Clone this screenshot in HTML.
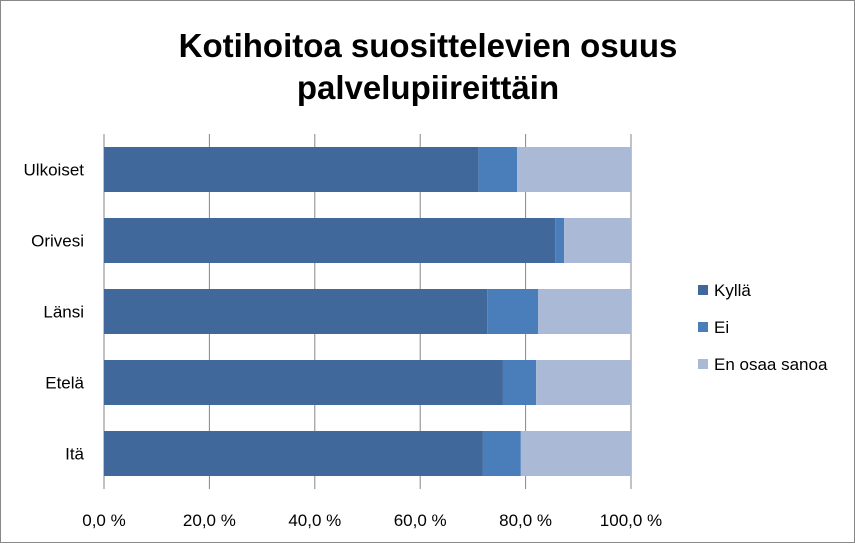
<!DOCTYPE html>
<html><head><meta charset="utf-8"><style>
body{margin:0;background:#fff;font-family:"Liberation Sans",sans-serif}
#wrap{position:relative;width:855px;height:543px;box-sizing:border-box;border:1px solid #888;background:#fff}
</style></head><body>
<div id="wrap">
<svg id="chart" width="855" height="543" style="position:absolute;left:0;top:0">
<text x="427" y="56" text-anchor="middle" font-size="33" font-weight="bold" fill="#000">Kotihoitoa suosittelevien osuus</text>
<text x="427" y="98" text-anchor="middle" font-size="33" font-weight="bold" fill="#000">palvelupiireittäin</text>
</svg>
</div>
<script>
const categories=["Ulkoiset","Orivesi","Länsi","Etelä","Itä"];
const kylla=[71.1,85.6,72.7,75.7,71.9];
const ei=[7.3,1.7,9.7,6.3,7.2];
const eos=[21.6,12.7,17.6,18.0,20.9];
const tickLabels=["0,0 %","20,0 %","40,0 %","60,0 %","80,0 %","100,0 %"];
const tickValues=[0,20,40,60,80,100];
const seriesNames=["Kyllä","Ei","En osaa sanoa"];
const colors=["#41689A","#4A7EBB","#A9B9D6"];
const svg=document.getElementById('chart');
const NS="http://www.w3.org/2000/svg";
const x0=103,x1=630,yTop=133,yBot=488;
const xs=v=>x0+(x1-x0)*v/100;
const band=(yBot-yTop)/categories.length;
const yc=i=>yTop+band*(i+0.5);
function mk(t,a){const e=document.createElementNS(NS,t);for(const k in a)e.setAttribute(k,a[k]);svg.appendChild(e);return e;}
tickValues.forEach((v,i)=>{
 const l=mk('line',{x1:xs(v),x2:xs(v),y1:yTop,y2:yBot,stroke:'#868686','stroke-width':1});
 
 
 const t=mk('text',{x:xs(v),y:525,'text-anchor':'middle','font-size':17,fill:'#000'});
 t.textContent=tickLabels[i];
 
 
});
const series=[kylla,ei,eos];
categories.forEach((c,i)=>{
 let acc=0;
 series.forEach((s,j)=>{
  const r=mk('rect',{x:xs(acc),y:yc(i)-22.5,width:xs(acc+s[i])-xs(acc),height:45,fill:colors[j]});
  
  
  acc+=s[i];
 });
 const t=mk('text',{x:83,y:yc(i)+6,'text-anchor':'end','font-size':17,fill:'#000'});
 t.textContent=c;
 
 
});
seriesNames.forEach((n,j)=>{
 const y=290+j*37;
 const r=mk('rect',{x:697,y:y-6,width:10,height:10,fill:colors[j]});
 
 
 const t=mk('text',{x:713,y:y+5,'font-size':17,fill:'#000'});
 t.textContent=n;
 
 
});
</script>
</body></html>
